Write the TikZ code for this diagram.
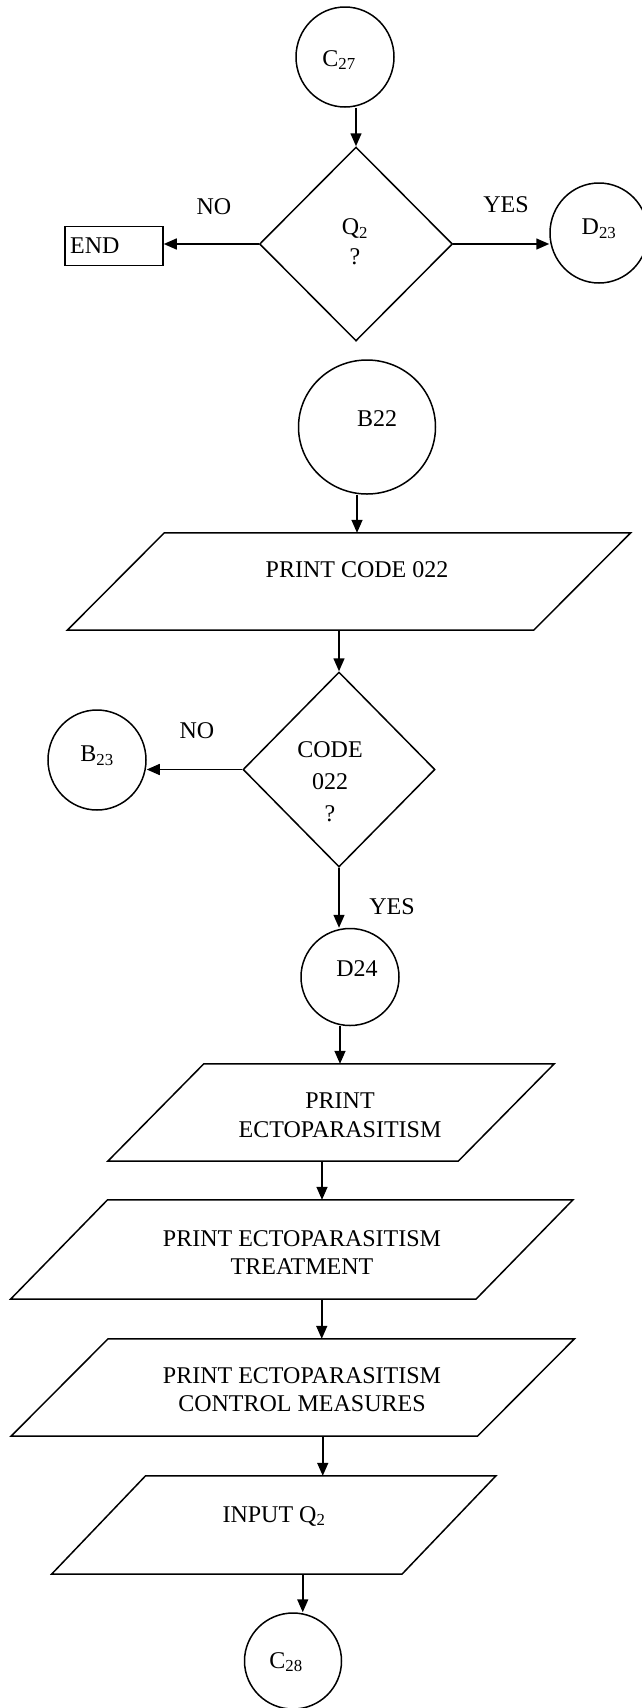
\documentclass[tikz,border=0pt]{standalone}
\usepackage{fontspec}
\setmainfont{Liberation Serif}
\usetikzlibrary{shapes.geometric,arrows.meta}
\newcommand\drawpara[2]{%
  \draw[outline] ([xshift=#2]#1.north west) -- ([xshift=#2]#1.north east)
    -- ([xshift=-#2]#1.south east) -- ([xshift=-#2]#1.south west) -- cycle;}
\begin{document}
\begin{tikzpicture}[x=1pt,y=-1pt,
  outline/.style={line width=1.5pt, line join=miter},
  conn/.style={ellipse, draw, line width=1.5pt, inner sep=0pt, minimum width=98pt, minimum height=100pt},
  dec/.style={diamond, draw, line width=1.5pt, inner sep=0pt},
  para/.style={rectangle, inner sep=0pt},
  txt/.style={font=\fontsize{24}{28}\selectfont, inner sep=0pt, align=center},
  arr/.style={line width=1.5pt, -{Triangle[length=13pt,width=11pt]}},
]
\useasboundingbox (0,0) rectangle (641,1708);

% top part
\node[conn] (c27) at (345,57) {};
\node[txt] (c27t) at (339,60) {C\textsubscript{27}};
\node[dec, minimum width=193pt, minimum height=194pt] (q2) at (356,244) {};
\node[txt, font=\fontsize{24}{30}\selectfont] (q2t) at (355,242) {Q\textsubscript{2}\\?};
\node[draw, line width=1.5pt, minimum width=98pt, minimum height=39pt, inner sep=0pt] (end) at (114,246) {};
\node[txt, anchor=west] (endt) at (70,246) {END};
\node[txt] (no1) at (214,207) {NO};
\node[txt] (yes1) at (506,205) {YES};
\node[conn] (d23) at (599,233) {};
\node[txt] (d23t) at (599,229) {D\textsubscript{23}};

\draw[arr] (c27.south -| q2.north) -- (q2.north);
\draw[arr] (q2.west) -- (q2.west -| end.east);
\draw[arr] (q2.east) -- (q2.east -| d23.west);

% B22 part
\node[conn, minimum width=137pt, minimum height=134pt] (b22) at (367,427) {};
\node[txt] (b22t) at (377,419) {B22};
\node[para, minimum width=466pt, minimum height=97pt] (p1) at (349,581.5) {};
\drawpara{p1}{48.5pt}
\node[txt] (p1t) at (357,570) {PRINT CODE 022};
\node[dec, minimum width=192pt, minimum height=195pt] (code) at (339,769.5) {};
\node[txt, font=\fontsize{24}{32}\selectfont] (codet) at (330,782) {CODE\\022\\?};
\node[txt] (no2) at (197,731) {NO};
\node[conn] (b23) at (97,760) {};
\node[txt] (b23t) at (97,756) {B\textsubscript{23}};
\node[txt] (yes2) at (392,907) {YES};
\node[conn, minimum height=97pt] (d24) at (350,977) {};
\node[txt] (d24t) at (357,969) {D24};

\draw[arr] (b22.south -| p1t) -- (p1t |- p1.north);
\draw[arr] (p1.south -| code.north) -- (code.north);
\draw[arr] (code.west) -- (code.west -| b23.east);
\draw[arr] (code.south) -- (code.south |- d24.north);

% print blocks
\node[para, minimum width=350pt, minimum height=97pt] (p2) at (331,1112.5) {};
\drawpara{p2}{48pt}
\node[txt, font=\fontsize{24}{29}\selectfont] (p2t) at (340,1115) {PRINT\\ECTOPARASITISM};
\node[para, minimum width=465pt, minimum height=99pt] (p3) at (291.75,1249.5) {};
\drawpara{p3}{48.5pt}
\node[txt] (p3t) at (302,1252.5) {PRINT ECTOPARASITISM\\TREATMENT};
\node[para, minimum width=466pt, minimum height=97pt] (p4) at (292.75,1387.5) {};
\drawpara{p4}{48.5pt}
\node[txt] (p4t) at (302,1390) {PRINT ECTOPARASITISM\\CONTROL MEASURES};
\node[para, minimum width=350pt, minimum height=98pt] (p5) at (273.75,1525) {};
\drawpara{p5}{47pt}
\node[txt] (p5t) at (274,1516) {INPUT Q\textsubscript{2}};
\node[conn, minimum width=97pt, minimum height=96pt] (c28) at (293,1661) {};
\node[txt] (c28t) at (286,1662) {C\textsubscript{28}};

\draw[arr] (d24.south -| p2t) -- (p2t |- p2.north);
\draw[arr] ([xshift=-9pt]p2.south) -- ([xshift=-9pt]p2.south |- p3.north);
\draw[arr] ([xshift=30pt]p3.south) -- ([xshift=30pt]p3.south |- p4.north);
\draw[arr] ([xshift=30pt]p4.south) -- ([xshift=30pt]p4.south |- p5.north);
\draw[arr] ([xshift=29pt]p5.south) -- ([xshift=29pt]p5.south |- c28.north);
\end{tikzpicture}
\end{document}
